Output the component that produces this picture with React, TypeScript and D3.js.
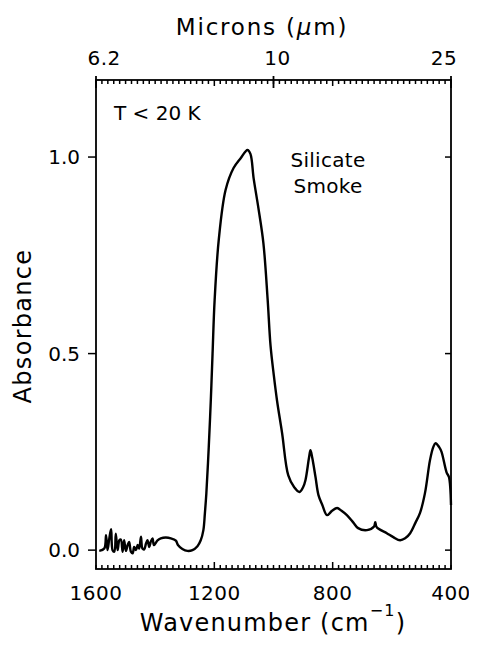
import React, { useEffect, useRef } from "react";
import * as d3 from "d3";

// spectrum (wavenumber cm^-1, absorbance)
const wavenumber = [
  1589, 1572, 1566, 1561, 1555, 1549, 1544, 1538, 1533, 1527, 1521, 1516,
  1510, 1505, 1499, 1493, 1488, 1482, 1476, 1471, 1465, 1459, 1454, 1448,
  1443, 1437, 1431, 1426, 1420, 1415, 1409, 1404, 1392, 1381, 1364, 1347,
  1330, 1323, 1308, 1291, 1274, 1257, 1246, 1237, 1232, 1227, 1219, 1212,
  1206, 1199, 1185, 1162, 1135, 1111, 1088, 1078, 1067, 1051, 1034, 1020,
  1010, 999, 988, 971, 950, 930, 912, 900, 892, 880, 875, 869, 858, 848, 835,
  819, 802, 785, 770, 752, 730, 714, 684, 660, 656, 651, 617, 595, 572, 555,
  538, 520, 505, 488, 471, 460, 452, 440, 432, 415, 407, 400,
];
const absorbance = [
  -0.002, 0.004, 0.038, 0.0, 0.03, 0.053, 0.0, -0.004, 0.042, 0.0, 0.025,
  0.027, -0.004, 0.025, -0.002, 0.013, 0.021, -0.004, -0.008, 0.008, 0.0,
  0.013, 0.004, 0.034, 0.004, 0.002, 0.017, 0.025, 0.008, 0.021, 0.03, 0.013,
  0.025, 0.03, 0.032, 0.03, 0.024, 0.013, 0.003, -0.002, 0.0, 0.01, 0.025,
  0.051, 0.093, 0.144, 0.26, 0.38, 0.5, 0.636, 0.79, 0.916, 0.972, 0.997,
  1.018, 1.008, 0.945, 0.87, 0.78, 0.64, 0.52, 0.445, 0.38, 0.298, 0.19,
  0.16, 0.148, 0.16, 0.178, 0.235, 0.254, 0.235, 0.186, 0.14, 0.115, 0.089,
  0.1, 0.107, 0.1, 0.089, 0.07, 0.056, 0.051, 0.06, 0.071, 0.058, 0.043,
  0.033, 0.025, 0.03, 0.043, 0.07, 0.094, 0.145, 0.229, 0.262, 0.272, 0.262,
  0.25, 0.198, 0.186, 0.115,
];

const bottomTicks = [1600, 1200, 800, 400];
const leftTicks = [0.0, 0.5, 1.0];
const micronTicks = [6.2, 10, 25];

export default function App() {
  const svgRef = useRef(null);

  useEffect(() => {
    const width = 477;
    const height = 645;
    const m = { left: 96, right: 451, top: 80, bottom: 569 };
    const font = "'DejaVu Sans', sans-serif";

    const svg = d3.select(svgRef.current);
    svg.selectAll("*").remove();
    svg
      .attr("width", width)
      .attr("height", height)
      .style("background", "white")
      .style("display", "block");

    const x = d3.scaleLinear().domain([1600, 400]).range([m.left, m.right]);
    const y = d3.scaleLinear().domain([-0.048, 1.196]).range([m.bottom, m.top]);

    // frame
    svg
      .append("rect")
      .attr("x", m.left)
      .attr("y", m.top)
      .attr("width", m.right - m.left)
      .attr("height", m.bottom - m.top)
      .attr("fill", "none")
      .attr("stroke", "black")
      .attr("stroke-width", 1.8);

    // minor ticks every 20 cm-1, bottom pointing up, top pointing down
    const minor = d3.range(1600, 399, -20);
    svg
      .append("g")
      .selectAll("line")
      .data(minor)
      .join("line")
      .attr("x1", (d) => x(d))
      .attr("x2", (d) => x(d))
      .attr("y1", m.bottom)
      .attr("y2", (d) => m.bottom - (d === 1200 || d === 800 ? 7 : 4))
      .attr("stroke", "black")
      .attr("stroke-width", 1.5);
    svg
      .append("g")
      .selectAll("line")
      .data(minor)
      .join("line")
      .attr("x1", (d) => x(d))
      .attr("x2", (d) => x(d))
      .attr("y1", m.top)
      .attr("y2", (d) => m.top + (d === 1200 || d === 800 ? 6 : 4))
      .attr("stroke", "black")
      .attr("stroke-width", 1.5);

    // micron ticks on top
    svg
      .append("g")
      .selectAll("line")
      .data(micronTicks)
      .join("line")
      .attr("x1", (d) => Math.max(x(10000 / d), m.left))
      .attr("x2", (d) => Math.max(x(10000 / d), m.left))
      .attr("y1", m.top - 4)
      .attr("y2", m.top + 8)
      .attr("stroke", "black")
      .attr("stroke-width", 1.8);
    svg
      .append("g")
      .selectAll("text")
      .data(micronTicks)
      .join("text")
      .text((d) => `${d}`)
      .attr("x", (d, i) => x(10000 / d) + [12, 4, -7][i])
      .attr("y", 65)
      .attr("text-anchor", "middle")
      .style("font-family", font)
      .style("font-size", "20px")
      .style("letter-spacing", "0.5px");

    svg
      .append("text")
      .attr("x", 262)
      .attr("y", 35)
      .attr("text-anchor", "middle")
      .style("font-family", font)
      .style("font-size", "23px")
      .style("letter-spacing", "1.8px")
      .text("Microns (")
      .append("tspan")
      .style("font-style", "italic")
      .text("μ")
      .append("tspan")
      .style("font-style", "normal")
      .text("m)");

    // bottom labels
    svg
      .append("g")
      .selectAll("text")
      .data(bottomTicks)
      .join("text")
      .text((d) => `${d}`)
      .attr("x", (d) => x(d))
      .attr("y", 600)
      .attr("text-anchor", "middle")
      .style("font-family", font)
      .style("font-size", "20px")
      .style("letter-spacing", "0.5px");

    const wl = svg
      .append("text")
      .attr("x", 273)
      .attr("y", 631)
      .attr("text-anchor", "middle")
      .style("font-family", font)
      .style("font-size", "24px")
      .style("letter-spacing", "1.2px");
    wl.append("tspan").text("Wavenumber (cm");
    wl.append("tspan").attr("dy", -15).style("font-size", "16px").text("−1");
    wl.append("tspan").attr("dy", 15).text(")");

    // left ticks outward, right ticks inward
    svg
      .append("g")
      .selectAll("line")
      .data(leftTicks)
      .join("line")
      .attr("x1", m.left - 8)
      .attr("x2", m.left)
      .attr("y1", (d) => y(d))
      .attr("y2", (d) => y(d))
      .attr("stroke", "black")
      .attr("stroke-width", 1.5);
    svg
      .append("g")
      .selectAll("line")
      .data(leftTicks)
      .join("line")
      .attr("x1", m.right - 6)
      .attr("x2", m.right)
      .attr("y1", (d) => y(d))
      .attr("y2", (d) => y(d))
      .attr("stroke", "black")
      .attr("stroke-width", 1.5);
    svg
      .append("g")
      .selectAll("text")
      .data(leftTicks)
      .join("text")
      .text((d) => d.toFixed(1))
      .attr("x", 80)
      .attr("y", (d) => y(d) + 7)
      .attr("text-anchor", "end")
      .style("font-family", font)
      .style("font-size", "20px");

    svg
      .append("text")
      .attr("transform", "translate(31,326) rotate(-90)")
      .attr("text-anchor", "middle")
      .style("font-family", font)
      .style("font-size", "24px")
      .style("letter-spacing", "1.3px")
      .text("Absorbance");

    // annotations
    svg
      .append("text")
      .attr("x", 114)
      .attr("y", 120)
      .style("font-family", font)
      .style("font-size", "20px")
      .text("T < 20 K");
    svg
      .append("text")
      .attr("x", 328)
      .attr("y", 167)
      .attr("text-anchor", "middle")
      .style("font-family", font)
      .style("font-size", "20px")
      .style("letter-spacing", "0.3px")
      .text("Silicate");
    svg
      .append("text")
      .attr("x", 328)
      .attr("y", 193)
      .attr("text-anchor", "middle")
      .style("font-family", font)
      .style("font-size", "20px")
      .style("letter-spacing", "0.3px")
      .text("Smoke");

    // spectrum
    const pts = wavenumber.map((w, i) => [w, absorbance[i]]);
    const line = d3
      .line()
      .x((d) => x(d[0]))
      .y((d) => y(d[1]))
      .curve(d3.curveCatmullRom.alpha(0.5));
    svg
      .append("path")
      .datum(pts)
      .attr("d", line)
      .attr("fill", "none")
      .attr("stroke", "black")
      .attr("stroke-width", 2.4)
      .attr("stroke-linejoin", "round");
  }, []);

  return (
    <div style={{ margin: -8 }}>
      <svg ref={svgRef}></svg>
    </div>
  );
}
